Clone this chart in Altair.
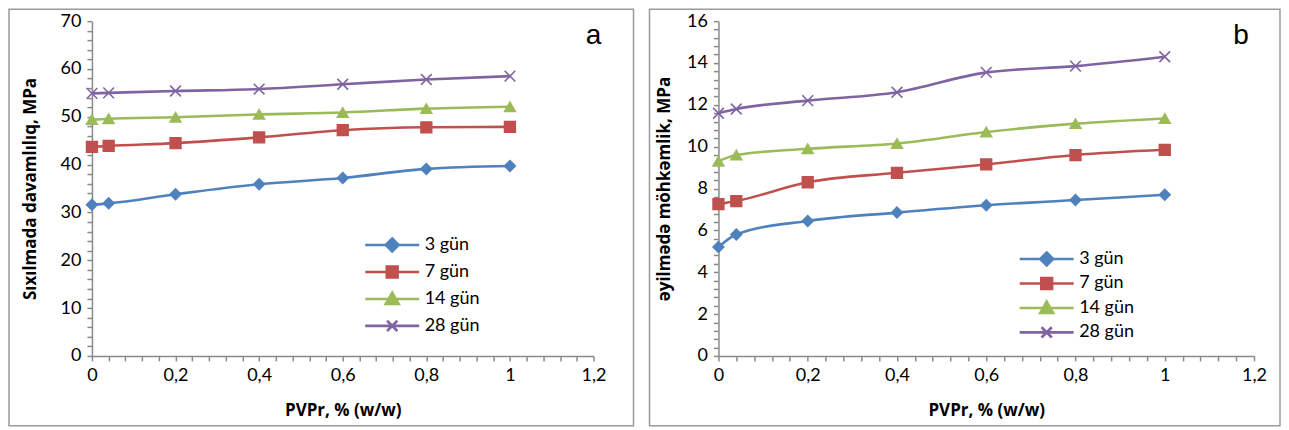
import altair as alt
import pandas as pd

# ---------------- data ----------------
x_vals = [0, 0.04, 0.2, 0.4, 0.6, 0.8, 1.0]
series = ["3 gün", "7 gün", "14 gün", "28 gün"]

# panel a: Sıxılmada davamlılıq, MPa
a_3 = [31.6, 31.9, 33.8, 35.9, 37.2, 39.1, 39.7]
a_7 = [43.7, 43.9, 44.5, 45.7, 47.2, 47.8, 47.9]
a_14 = [49.4, 49.6, 49.9, 50.5, 50.9, 51.7, 52.1]
a_28 = [54.9, 55.0, 55.4, 55.8, 56.8, 57.8, 58.5]

# panel b: əyilmədə möhkəmlik, MPa
b_3 = [5.2, 5.8, 6.45, 6.85, 7.2, 7.45, 7.7]
b_7 = [7.25, 7.4, 8.3, 8.75, 9.15, 9.6, 9.85]
b_14 = [9.3, 9.6, 9.9, 10.15, 10.7, 11.1, 11.35]
b_28 = [11.6, 11.8, 12.2, 12.6, 13.55, 13.85, 14.3]

x_ticks = [0, 0.2, 0.4, 0.6, 0.8, 1.0, 1.2]
a_y_ticks = [0, 10, 20, 30, 40, 50, 60, 70]
b_y_ticks = [0, 2, 4, 6, 8, 10, 12, 14, 16]

colors = ["#4F81BD", "#C0504D", "#9BBB59", "#8064A2"]

# ---------------- styling ----------------
X_PATH = "M-1,-1L1,1M-1,1L1,-1"
point_shapes = ["diamond", "square", "triangle-up", X_PATH]
legend_shapes = [
    "M-1,0H1M0,-0.24L0.24,0L0,0.24L-0.24,0Z",
    "M-1,0H1M-0.2,-0.2H0.2V0.2H-0.2Z",
    "M-1,0H1M0,-0.23L0.24,0.19L-0.24,0.19Z",
    "M-1,0H1M-0.19,-0.19L0.19,0.19M-0.19,0.19L0.19,-0.19",
]
AXIS_GRAY = "#8a8a8a"


def long_df(vals):
    rows = []
    for s, v in zip(series, vals):
        for xv, yv in zip(x_vals, v):
            rows.append({"x": xv, "value": yv, "series": s})
    return pd.DataFrame(rows)


def minor(major, parts):
    step = (major[1] - major[0]) / parts
    n = int(round((major[-1] - major[0]) / step))
    return [round(major[0] + i * step, 4) for i in range(n + 1)]


def panel(df, y_major, ytitle, tag, width, height, title_x, tag_xy,
          leg_xy, row_pad, border):
    one = pd.DataFrame({"k": [0]})
    ystep = y_major[1] - y_major[0]
    x_axis = alt.Axis(
        values=minor(x_ticks, 5),
        labelExpr="abs(datum.value/0.2 - round(datum.value/0.2)) < 1e-6 ? "
                  "replace(format(datum.value, '~g'), '.', ',') : ''",
        title="PVPr, % (w/w)",
        titleX=width / 2, titleY=55, titleBaseline="middle",
        labelPadding=6,
    )
    y_axis = alt.Axis(
        values=minor(y_major, 5),
        labelExpr=f"abs(datum.value/{ystep} - round(datum.value/{ystep})) < 1e-6 ? "
                  "format(datum.value, 'd') : ''",
        title=ytitle,
        titleX=title_x, titleY=height / 2, titleAngle=-90,
        titleAlign="center", titleBaseline="middle",
        labelPadding=6,
    )
    X = alt.X("x:Q", scale=alt.Scale(domain=[0, 1.2], nice=False, zero=False),
              axis=x_axis)
    Y = alt.Y("value:Q",
              scale=alt.Scale(domain=[y_major[0], y_major[-1]], nice=False),
              axis=y_axis)
    cscale = alt.Scale(domain=series, range=colors)

    lines = alt.Chart(df).mark_line(
        interpolate="monotone", strokeWidth=2.6
    ).encode(
        x=X, y=Y,
        color=alt.Color("series:N", scale=cscale, legend=None),
    )
    points = alt.Chart(df).mark_point(
        filled=True, opacity=1, size=115, strokeWidth=1.6
    ).encode(
        x=X, y=Y,
        shape=alt.Shape("series:N",
                        scale=alt.Scale(domain=series, range=point_shapes),
                        legend=None),
        fill=alt.Fill("series:N", scale=cscale, legend=None),
        stroke=alt.Stroke("series:N", scale=cscale, legend=None),
    )
    leg = alt.Legend(
        title=None, orient="none", legendX=leg_xy[0], legendY=leg_xy[1],
        symbolSize=2916, symbolStrokeWidth=2.6, clipHeight=18,
        rowPadding=row_pad, labelFont="Lato", labelFontSize=18,
        labelColor="black", labelOffset=4, padding=0, symbolOpacity=1,
    )
    legend_layer = alt.Chart(df).transform_filter("false").mark_point(
        filled=True, opacity=1, strokeWidth=2.6
    ).encode(
        x=X, y=Y,
        shape=alt.Shape("series:N",
                        scale=alt.Scale(domain=series, range=legend_shapes),
                        legend=leg),
        fill=alt.Fill("series:N", scale=cscale, legend=leg),
        stroke=alt.Stroke("series:N", scale=cscale, legend=leg),
    )
    frame = alt.Chart(one).mark_rect(
        filled=False, color="#9a9a9a", strokeWidth=1.5
    ).encode(
        x=alt.value(border[0]), x2=alt.value(border[1]),
        y=alt.value(border[2]), y2=alt.value(border[3]),
    )
    tag_text = alt.Chart(one).mark_text(
        text=tag, font="Liberation Sans", fontSize=28, align="center",
        baseline="middle", color="black"
    ).encode(x=alt.value(tag_xy[0]), y=alt.value(tag_xy[1]))

    return alt.layer(frame, lines, points, legend_layer, tag_text).resolve_scale(
        shape="independent", fill="independent", stroke="independent"
    ).properties(width=width, height=height)


df_a = long_df([a_3, a_7, a_14, a_28])
df_b = long_df([b_3, b_7, b_14, b_28])

W_A, W_B, H = 502, 536, 335

pa = panel(df_a, a_y_ticks, "Sıxılmada davamlılıq, MPa", "a", W_A, H,
           -61, (502, 15), (272, 215), 9, (-83, W_A + 40, -12, H + 70))
pb = panel(df_b, b_y_ticks, "əyilmədə möhkəmlik, MPa", "b", W_B, H,
           -54, (523, 15), (300, 229), 6.5, (-69, W_B + 26, -12, H + 70))

chart = alt.hconcat(pa, pb, spacing=14).resolve_scale(
    x="independent", y="independent", color="independent",
    fill="independent", stroke="independent", shape="independent",
).resolve_legend(
    fill="independent", stroke="independent", shape="independent"
).properties(padding=0).configure_view(strokeWidth=0).configure_axis(
    grid=False, domainColor=AXIS_GRAY, domainWidth=1.5, tickColor=AXIS_GRAY,
    tickWidth=1.5, tickSize=5, labelFont="Lato", labelFontSize=18,
    labelColor="black", labelOverlap=False, labelFlush=False,
    titleFont="Open Sans", titleFontSize=17, titleFontWeight="bold",
    titleColor="black",
)

chart.save("out.html", embed_options={"renderer": "svg", "actions": False})
